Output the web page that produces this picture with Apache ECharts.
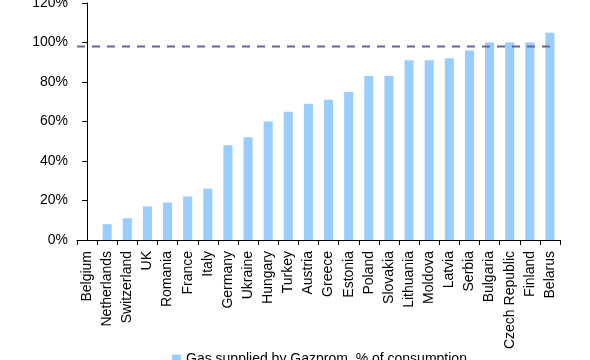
<!DOCTYPE html>
<html>
<head>
<meta charset="utf-8">
<script src="https://cdn.jsdelivr.net/npm/echarts@6/dist/echarts.min.js"></script>
<style>html,body{margin:0;padding:0;background:#fff;}#c{width:590px;height:360px;}</style>
</head>
<body>
<div id="c"></div>
<script>
const categories = ["Belgium","Netherlands","Switzerland","UK","Romania","France","Italy","Germany","Ukraine","Hungary","Turkey","Austria","Greece","Estonia","Poland","Slovakia","Lithuania","Moldova","Latvia","Serbia","Bulgaria","Czech Republic","Finland","Belarus"];
const gasShare = [0,8,11,17,19,22,26,48,52,60,65,69,71,75,83,83,91,91,92,96,100,100,100,105];
const refLine = [[-0.5,98],[23,98]];
const yTicks = [0,20,40,60,80,100,120];
const seriesName = "Gas supplied by Gazprom, % of consumption";

const chart = echarts.init(document.getElementById('c'));
const font = 'Liberation Sans, Arial, sans-serif';
chart.setOption({
  animation:false,
  backgroundColor:'#fff',
  grid:{left:77,right:30,top:3,bottom:120,containLabel:false,outerBoundsMode:'none'},
  legend:{
    data:[seriesName],
    left:172, top:352,
    itemWidth:9,itemHeight:9,itemGap:4,
    icon:'rect',
    textStyle:{fontFamily:font,fontSize:14,color:'#000',padding:[0,0,0,0]},
    padding:0
  },
  xAxis:[{
    type:'category',
    data:categories,
    axisLine:{lineStyle:{color:'#000',width:1}},
    axisTick:{show:true,alignWithLabel:false,length:5,lineStyle:{color:'#000'}},
    axisLabel:{rotate:90,interval:0,margin:11,fontFamily:font,fontSize:14,color:'#000'}
  },{
    type:'value',
    min:-0.5,max:23.5,
    show:false
  }],
  yAxis:{
    type:'value',
    min:yTicks[0],max:yTicks[yTicks.length-1],interval:20,
    axisLine:{show:true,lineStyle:{color:'#000',width:1}},
    axisTick:{show:true,length:5,lineStyle:{color:'#000'}},
    splitLine:{show:false},
    axisLabel:{formatter:'{value}%',margin:9,fontFamily:font,fontSize:14,color:'#000'}
  },
  series:[{
    name:seriesName,
    type:'bar',
    data:gasShare,
    barWidth:'45%',
    itemStyle:{color:'#99CCFF'}
  },{
    name:'ref',
    type:'line',
    xAxisIndex:1,
    data:refLine,
    symbol:'none',
    lineStyle:{color:'#666699',width:2,type:[8,7]},
    z:5
  }]
});
</script>
</body>
</html>
